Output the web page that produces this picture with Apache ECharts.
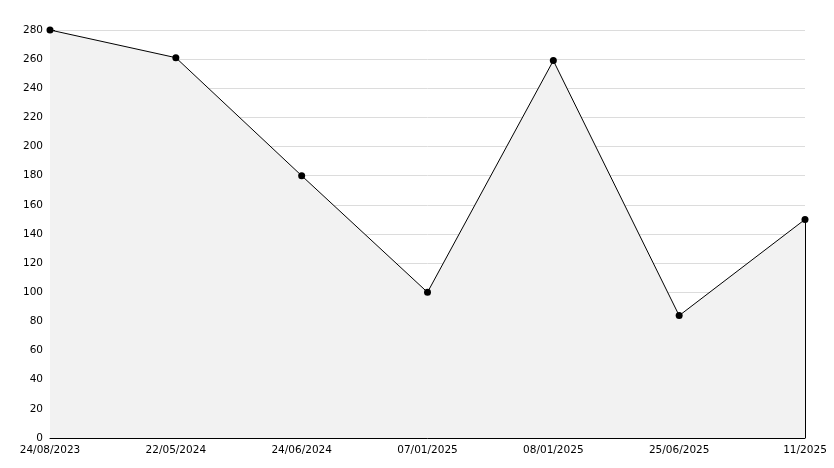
<!DOCTYPE html>
<html>
<head>
<meta charset="utf-8">
<script src="https://cdn.jsdelivr.net/npm/echarts@6/dist/echarts.min.js"></script>
<style>html,body{margin:0;padding:0;background:#fff;}#c{width:834px;height:468px;}</style>
</head>
<body>
<div id="c"></div>
<script>
const categories = ['24/08/2023','22/05/2024','24/06/2024','07/01/2025','08/01/2025','25/06/2025','11/2025'];
const values = [280, 261, 180, 100, 259, 84, 150];
const yTicks = {min: 0, max: 280, interval: 20};

const chart = echarts.init(document.getElementById('c'), null, {renderer: 'canvas'});
const font = {fontFamily: 'DejaVu Sans', fontSize: 10.5, color: '#000'};
const last = categories.length - 1;
chart.setOption({
  animation: false,
  backgroundColor: '#fff',
  grid: {left: 50, right: 29, top: 30, bottom: 30, containLabel: false},
  xAxis: {
    type: 'category',
    data: categories,
    boundaryGap: false,
    axisLine: {show: true, lineStyle: {color: '#000', width: 1}},
    axisTick: {show: true, inside: true, length: 5, alignWithLabel: true, lineStyle: {color: '#000'}},
    axisLabel: Object.assign({margin: 7, interval: 0, showMinLabel: true, showMaxLabel: true}, font),
    splitLine: {show: false}
  },
  yAxis: {
    type: 'value',
    min: yTicks.min, max: yTicks.max, interval: yTicks.interval,
    axisLine: {show: true, lineStyle: {color: '#000', width: 1}},
    axisTick: {show: true, inside: true, length: 5, lineStyle: {color: '#000'}},
    minorTick: {show: true, splitNumber: 2, length: 3, lineStyle: {color: '#000'}},
    axisLabel: Object.assign({margin: 7}, font),
    splitLine: {show: true, lineStyle: {color: '#dcdcdc', width: 1}}
  },
  series: [{
    type: 'line',
    data: values,
    symbol: 'circle',
    symbolSize: 7,
    itemStyle: {color: '#000'},
    lineStyle: {color: '#000', width: 1},
    areaStyle: {color: '#f2f2f2', opacity: 1},
    markLine: {
      silent: true,
      symbol: 'none',
      label: {show: false},
      lineStyle: {color: '#000', width: 1, type: 'solid'},
      data: [[{coord: [last, 0]}, {coord: [last, values[last]]}]]
    }
  }]
});
</script>
</body>
</html>
